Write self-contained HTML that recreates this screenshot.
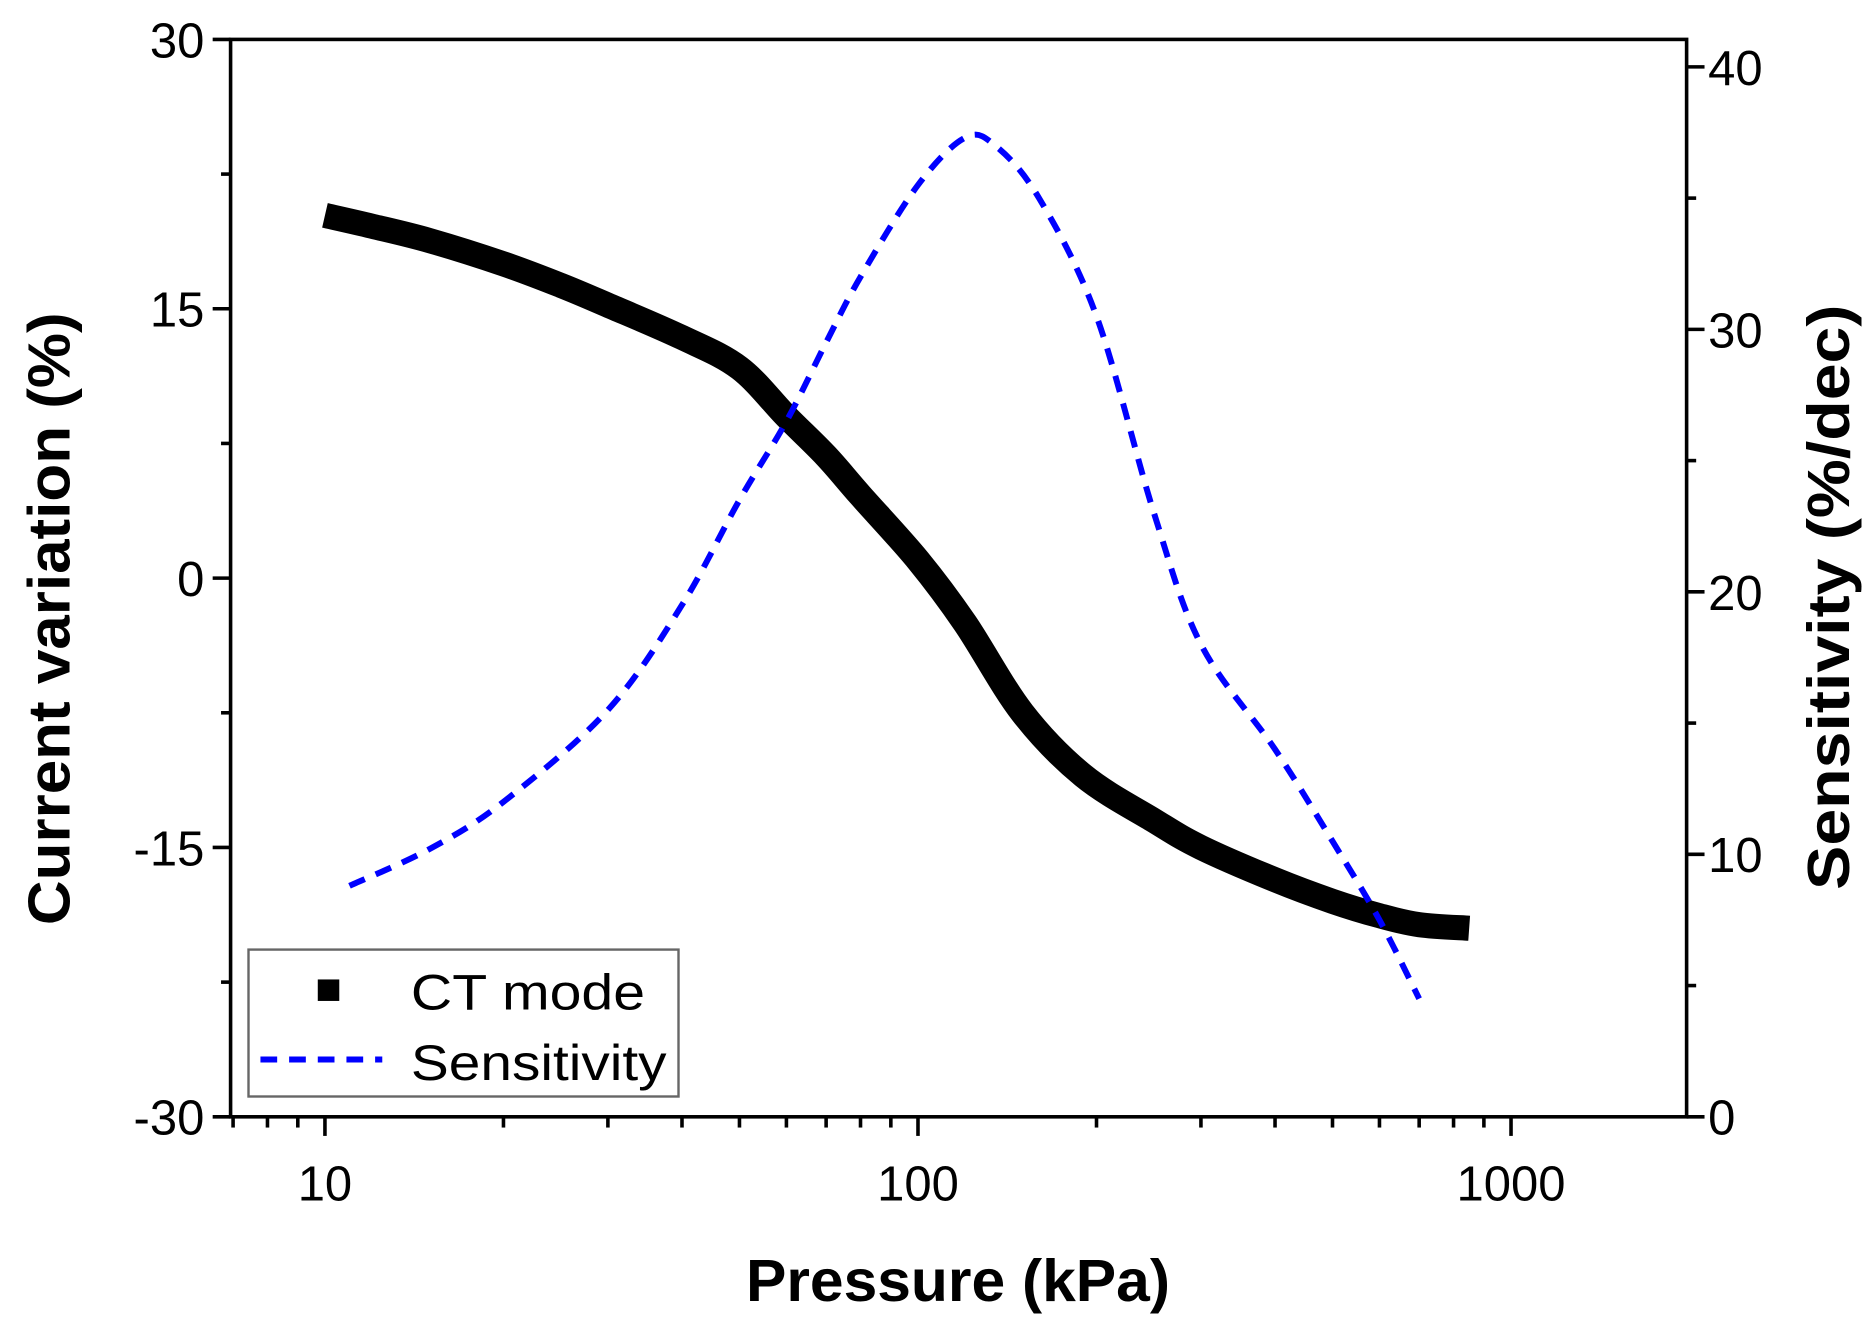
<!DOCTYPE html>
<html><head><meta charset="utf-8"><style>
html,body{margin:0;padding:0;background:#fff;}
svg{display:block;font-family:"Liberation Sans",Arial,sans-serif;}
</style></head><body>
<svg id="chart" width="1873" height="1333" viewBox="0 0 1568 1116" xmlns="http://www.w3.org/2000/svg">
<g id="axes"></g>
<g id="series"></g>
<text x="802" y="1089" font-size="50" font-weight="bold" text-anchor="middle" textLength="355" lengthAdjust="spacingAndGlyphs">Pressure (kPa)</text>
<text transform="translate(58,518) rotate(-90)" font-size="50" font-weight="bold" text-anchor="middle" textLength="513" lengthAdjust="spacingAndGlyphs">Current variation (%)</text>
<text transform="translate(1548,500) rotate(-90)" font-size="50" font-weight="bold" text-anchor="middle" textLength="490" lengthAdjust="spacingAndGlyphs">Sensitivity (%/dec)</text>
<g>
<rect x="208" y="795" width="360" height="123" fill="#fff" stroke="#666" stroke-width="2"/>
<rect x="266" y="820" width="18" height="18" fill="#000"/>
<text x="344" y="845" font-size="42" textLength="196" lengthAdjust="spacingAndGlyphs">CT mode</text>
<line x1="218" y1="887" x2="320" y2="887" stroke="#0000ff" stroke-width="5" stroke-dasharray="14,10"/>
<text x="344" y="904" font-size="42" textLength="214" lengthAdjust="spacingAndGlyphs">Sensitivity</text>
</g>
</svg>
<script>
const ctPressure=[10,12,15,20,25,30,40,50,60,70,80,100,120,150,190,250,300,400,500,600,700,850];
const ctValues=[20.2,19.6,18.8,17.5,16.3,15.2,13.4,11.7,9,6.8,4.6,1,-2.5,-7.5,-11,-13.5,-15,-16.8,-18,-18.8,-19.3,-19.5];
const sensPressure=[11,15,20,30,40,50,60,70,80,100,120,135,160,200,250,300,400,500,600,700];
const sensValues=[8.8,10.2,12,15.5,19.5,23.5,26.5,29.5,32,35.5,37.3,37,35,30.5,23,18,14,10.5,7.5,4.5];
const leftTicks=[30,15,0,-15,-30];
const rightTicks=[0,10,20,30,40];
const xTicks=[10,100,1000];

const L=193,R=1412,T=33,B=935;
const xs=p=>272+496.5*Math.log10(p/10);
const yl=v=>484-v*(B-T)/60;
const yr=v=>B-v*21.975;
const NS="http://www.w3.org/2000/svg";
function mk(parent,tag,attrs){const e=document.createElementNS(NS,tag);for(const k in attrs)e.setAttribute(k,attrs[k]);parent.appendChild(e);return e;}
function smooth(pts){let d='M'+pts[0][0]+','+pts[0][1];
 for(let i=0;i<pts.length-1;i++){const p0=pts[i-1]||pts[i],p1=pts[i],p2=pts[i+1],p3=pts[i+2]||p2;
  d+=' C'+(p1[0]+(p2[0]-p0[0])/6)+','+(p1[1]+(p2[1]-p0[1])/6)+' '+(p2[0]-(p3[0]-p1[0])/6)+','+(p2[1]-(p3[1]-p1[1])/6)+' '+p2[0]+','+p2[1];}
 return d;}
const ax=document.getElementById('axes'),se=document.getElementById('series');
let e;
e=mk(ax,'rect',{x:L,y:T,width:R-L,height:B-T,fill:'none',stroke:'#000','stroke-width':3});


for(let v=-30;v<=30;v+=7.5){const maj=leftTicks.includes(v);
 e=mk(ax,'line',{x1:L-(maj?15:8),x2:L,y1:yl(v),y2:yl(v),stroke:'#000','stroke-width':3});
 
 }
leftTicks.forEach(v=>{e=mk(ax,'text',{x:L-22,y:yl(v)+15,'font-size':41,'text-anchor':'end'});e.textContent=v;
 
 });
for(let v=0;v<=40;v+=5){const maj=rightTicks.includes(v);
 e=mk(ax,'line',{x1:R,x2:R+(maj?15:8),y1:yr(v),y2:yr(v),stroke:'#000','stroke-width':3});
 
 }
rightTicks.forEach(v=>{e=mk(ax,'text',{x:R+18,y:yr(v)+15,'font-size':41});e.textContent=v;
 
 });
[1,10,100,1000].forEach(d=>{for(let m=1;m<10;m++){const p=d*m;const x=xs(p);if(x<L||x>R)continue;const maj=xTicks.includes(p);
 e=mk(ax,'line',{x1:x,x2:x,y1:B,y2:B+(maj?16:9),stroke:'#000','stroke-width':3});
 
 }});
xTicks.forEach(p=>{e=mk(ax,'text',{x:xs(p),y:B+70,'font-size':41,'text-anchor':'middle'});e.textContent=p;
 
 });
const ctPts=ctPressure.map((p,i)=>[xs(p),yl(ctValues[i])]);
e=mk(se,'path',{d:smooth(ctPts),fill:'none',stroke:'#000','stroke-width':21,'stroke-linejoin':'round','stroke-linecap':'butt'});


const sPts=sensPressure.map((p,i)=>[xs(p),yr(sensValues[i])]);
e=mk(se,'path',{d:smooth(sPts),fill:'none',stroke:'#0000ff','stroke-width':5,'stroke-dasharray':'14,10'});


</script>
</body></html>
